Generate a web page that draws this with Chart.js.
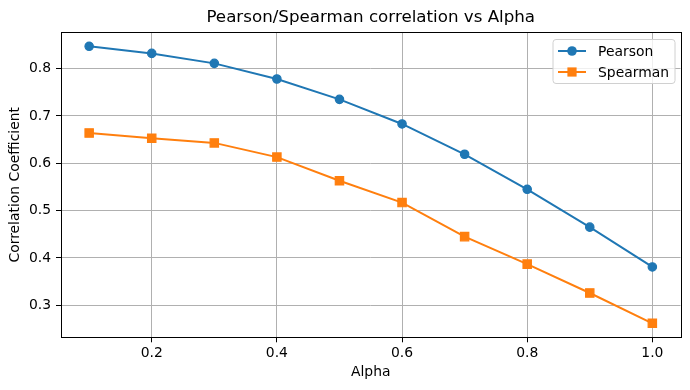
<!DOCTYPE html>
<html>
<head>
<meta charset="utf-8">
<script src="https://cdn.jsdelivr.net/npm/chart.js@4/dist/chart.umd.min.js"></script>
<style>
  body { margin: 0; background: #fff; }
  canvas { display: block; }
</style>
</head>
<body>
<canvas id="corrChart" width="690" height="390"></canvas>
<script>
// Data
const alphas = [0.1, 0.2, 0.3, 0.4, 0.5, 0.6, 0.7, 0.8, 0.9, 1.0];
const pearson = [0.847, 0.832, 0.811, 0.778, 0.735, 0.683, 0.619, 0.545, 0.465, 0.381];
const spearman = [0.664, 0.653, 0.643, 0.613, 0.563, 0.517, 0.445, 0.387, 0.326, 0.262];
const xTicks = [0.2, 0.4, 0.6, 0.8, 1.0];
const yTicks = [0.3, 0.4, 0.5, 0.6, 0.7, 0.8];

const FONT = 'DejaVu Sans';
const blue = '#1f77b4';
const orange = '#ff7f0e';

function toPoints(ys) {
  return alphas.map((a, i) => ({ x: a, y: ys[i] }));
}

// frame, title and legend in matplotlib style
const decorPlugin = {
  id: 'decor',
  afterDraw(chart) {
    const ctx = chart.ctx;
    const a = chart.chartArea;
    ctx.save();

    // axes frame
    ctx.strokeStyle = '#000';
    ctx.lineWidth = 1;
    ctx.strokeRect(Math.round(a.left) + 0.5, Math.round(a.top) + 0.5,
      Math.round(a.right - a.left), Math.round(a.bottom - a.top));

    // title
    ctx.fillStyle = '#000';
    ctx.font = '16.7px "' + FONT + '"';
    ctx.textAlign = 'center';
    ctx.textBaseline = 'middle';
    ctx.fillText('Pearson/Spearman correlation vs Alpha', (a.left + a.right) / 2, 17.5);

    // legend
    const bx = 553, by = 39.5, bw = 122, bh = 44;
    ctx.beginPath();
    ctx.roundRect(bx, by, bw, bh, 3);
    ctx.fillStyle = 'rgba(255,255,255,0.8)';
    ctx.fill();
    ctx.strokeStyle = '#d0d0d0';
    ctx.lineWidth = 1;
    ctx.stroke();

    const rows = [51, 72];
    chart.data.datasets.forEach((ds, i) => {
      const y = rows[i];
      ctx.strokeStyle = ds.borderColor;
      ctx.lineWidth = 2;
      ctx.beginPath();
      ctx.moveTo(558, y);
      ctx.lineTo(586, y);
      ctx.stroke();
      ctx.fillStyle = ds.borderColor;
      if (ds.pointStyle === 'rect') {
        ctx.fillRect(572 - 4.6, y - 4.6, 9.2, 9.2);
      } else {
        ctx.beginPath();
        ctx.arc(572, y, 4.8, 0, Math.PI * 2);
        ctx.fill();
      }
      ctx.fillStyle = '#000';
      ctx.font = '13.9px "' + FONT + '"';
      ctx.textAlign = 'left';
      ctx.textBaseline = 'middle';
      ctx.fillText(ds.label, 598, y + 1);
    });

    ctx.restore();
  }
};

const ctx = document.getElementById('corrChart').getContext('2d');
new Chart(ctx, {
  type: 'line',
  data: {
    datasets: [{
      label: 'Pearson',
      data: toPoints(pearson),
      borderColor: blue,
      backgroundColor: blue,
      borderWidth: 2,
      pointStyle: 'circle',
      pointRadius: 4.2,
      pointBorderWidth: 1.2,
      pointBackgroundColor: blue,
      tension: 0
    }, {
      label: 'Spearman',
      data: toPoints(spearman),
      borderColor: orange,
      backgroundColor: orange,
      borderWidth: 2,
      pointStyle: 'rect',
      pointRadius: 5.9,
      pointBorderWidth: 1.2,
      pointBackgroundColor: orange,
      tension: 0
    }]
  },
  options: {
    responsive: false,
    animation: false,
    events: [],
    layout: { padding: { left: 0, right: 9.5, top: 32.3, bottom: 0 } },
    plugins: {
      legend: { display: false },
      title: { display: false },
      tooltip: { enabled: false }
    },
    scales: {
      x: {
        type: 'linear',
        min: 0.055,
        max: 1.045,
        afterBuildTicks: s => { s.ticks = xTicks.map(v => ({ value: v })); },
        afterFit: s => { s.height = 52.7; },
        grid: { color: '#b0b0b0', lineWidth: 1, tickColor: '#000', tickLength: 5, tickWidth: 1 },
        border: { display: false },
        ticks: {
          color: '#000',
          font: { family: FONT, size: 13.9 },
          padding: 3,
          maxRotation: 0,
          callback: v => v.toFixed(1)
        },
        title: {
          display: true,
          text: 'Alpha',
          color: '#000',
          font: { family: FONT, size: 13.9 },
          padding: { top: 0, bottom: 9.5 }
        }
      },
      y: {
        min: 0.2324,
        max: 0.8766,
        afterBuildTicks: s => { s.ticks = yTicks.map(v => ({ value: v })); },
        afterFit: s => { s.width = 61; },
        grid: { color: '#b0b0b0', lineWidth: 1, tickColor: '#000', tickLength: 5, tickWidth: 1 },
        border: { display: false },
        ticks: {
          color: '#000',
          font: { family: FONT, size: 13.9 },
          padding: 5,
          callback: v => v.toFixed(1)
        },
        title: {
          display: true,
          text: 'Correlation Coefficient',
          color: '#000',
          font: { family: FONT, size: 13.9 },
          padding: { top: 7, bottom: 0 }
        }
      }
    }
  },
  plugins: [decorPlugin]
});
</script>
</body>
</html>
